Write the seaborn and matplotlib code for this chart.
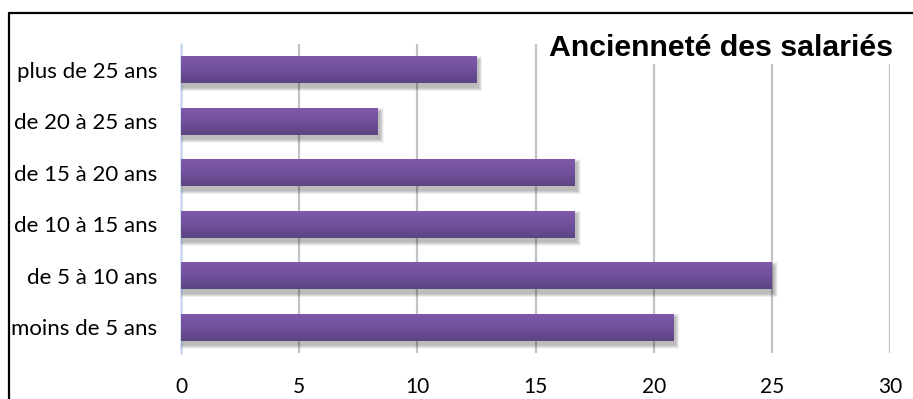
import numpy as np
import matplotlib
matplotlib.use("Agg")
import matplotlib.pyplot as plt
from matplotlib.patches import Rectangle
from matplotlib.lines import Line2D
from matplotlib.colors import LinearSegmentedColormap
import seaborn as sns
import pandas as pd

# Seniority bands and share of employees (%)
categories = ["plus de 25 ans", "de 20 à 25 ans", "de 15 à 20 ans",
              "de 10 à 15 ans", "de 5 à 10 ans", "moins de 5 ans"]
values = [12.5, 8.33, 16.67, 16.67, 25.0, 20.83]
xticks = [0, 5, 10, 15, 20, 25, 30]
title = "Ancienneté des salariés"

sns.set_theme(style="white")
plt.rcParams['font.family'] = ['Lato', 'DejaVu Sans']

W, H = 913, 399
fig = plt.figure(figsize=(W / 100, H / 100), dpi=100)
fig.patch.set_facecolor("white")
ax_l, ax_r, ax_t, ax_b = 181, 890, 44, 353
ax = fig.add_axes([ax_l / W, 1 - ax_b / H, (ax_r - ax_l) / W, (ax_b - ax_t) / H])

df = pd.DataFrame({"cat": categories, "val": values})
sns.barplot(data=df, x="val", y="cat", orient="h", color="#6E4E98",
            saturation=1, width=0.52, ax=ax, zorder=3, linewidth=0, edgecolor="none")

ax.set_xlim(0, 30)
ax.set_ylim(len(categories) - 0.5, -0.5)

# pixel -> data conversion for shadow offsets
px_x = 30 / (ax_r - ax_l)
px_y = len(categories) / (ax_b - ax_t)

grad = LinearSegmentedColormap.from_list("violet", ["#7F59AB", "#70509C", "#5D4482"])
gimg = np.linspace(0, 1, 64).reshape(-1, 1)

for p in list(ax.patches):
    p.set_linewidth(0)
    p.set_edgecolor("none")
    x0, y0 = p.get_x(), p.get_y()
    w, h = p.get_width(), p.get_height()
    # soft drop shadow, below and slightly right of the bar
    for k in range(1, 9):
        grow = k * 0.5
        sh = Rectangle((x0 + (2 - grow) * px_x, y0 + (4 - grow) * px_y),
                       w + 2 * grow * px_x, h + 2 * grow * px_y,
                       facecolor="black", edgecolor="none", alpha=0.035, zorder=2)
        ax.add_patch(sh)
    # vertical gradient fill
    im = ax.imshow(gimg, cmap=grad, aspect="auto", origin="upper",
                   extent=(x0, x0 + w, y0 + h, y0), zorder=4, interpolation="bilinear")
    im.set_clip_path(p)

ax.set_xlim(0, 30)
ax.set_ylim(len(categories) - 0.5, -0.5)

ax.set_xticks(xticks)
ax.set_xticklabels([str(t) for t in xticks])
ax.xaxis.grid(True, color="#C3C3C3", linewidth=1.6, zorder=0)
ax.yaxis.grid(False)
ax.set_axisbelow(True)
ax.axvline(0, color="#C9DAF0", linewidth=1.8, zorder=1, clip_on=False)
for s in ax.spines.values():
    s.set_visible(False)
ax.tick_params(axis="x", length=0, pad=17, labelsize=15, colors="black")
ax.tick_params(axis="y", length=0, pad=17, labelsize=16, colors="black")
ax.set_xlabel("")
ax.set_ylabel("")

# chart frame (left and top edges)
fig.add_artist(Line2D([9 / W, 9 / W], [0, 1 - 13 / H], transform=fig.transFigure,
                      color="black", linewidth=1.6))
fig.add_artist(Line2D([9 / W, 1], [1 - 13 / H, 1 - 13 / H], transform=fig.transFigure,
                      color="black", linewidth=1.6))

fig.text(549 / W, 1 - 48 / H, title, ha="left", va="center",
         fontsize=21.8, fontweight="bold", family=["Liberation Sans", "DejaVu Sans"],
         color="black",
         bbox=dict(facecolor="white", edgecolor="none", pad=1))

fig.savefig("out.png", dpi=100, facecolor="white")
